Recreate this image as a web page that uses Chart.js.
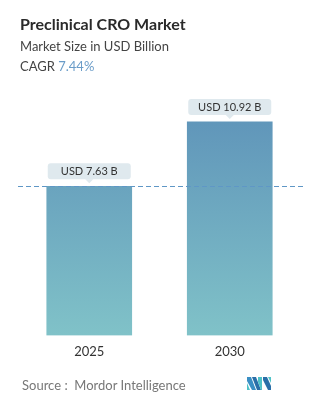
<!DOCTYPE html>
<html>
<head>
<meta charset="utf-8">
<script src="https://cdn.jsdelivr.net/npm/chart.js@4/dist/chart.umd.min.js"></script>
<style>
  html,body{margin:0;padding:0;background:#fff;}
  body{width:327px;height:402px;position:relative;overflow:hidden;font-family:Lato,"Open Sans",sans-serif;}
  #wrap{position:absolute;left:0;top:0;width:327px;height:402px;}
  .t{position:absolute;left:20px;white-space:nowrap;}
  #title{top:14px;font-size:16px;font-weight:700;color:#2a2a2a;}
  #sub{top:38px;font-size:13px;color:#444;}
  #cagr{top:58px;font-size:13px;color:#444;}
  #cagr span{color:#6a9cc8;}
  #src{top:377px;left:22px;font-size:13px;color:#777;}
  #logo{position:absolute;left:247px;top:377px;}
</style>
</head>
<body>
<div id="wrap"><canvas id="c" width="327" height="402"></canvas></div>
<div class="t" id="title">Preclinical CRO Market</div>
<div class="t" id="sub">Market Size in USD Billion</div>
<div class="t" id="cagr">CAGR <span>7.44%</span></div>
<div class="t" id="src">Source :&nbsp; Mordor Intelligence</div>
<svg id="logo" width="24" height="13" viewBox="0 0 24 13">
  <polygon points="0,0 4,0 9,13 5,13 0,4" fill="#3a8fc4"/>
  <polygon points="0,6 0,13 3,13" fill="#4fc3c8"/>
  <polygon points="5,0 9,0 14,13 10,13" fill="#2a6fa8"/>
  <polygon points="11,0 15,0 15,13 14,13 11,5" fill="#4fc3c8"/>
  <polygon points="16,0 20,0 24,9 24,13 21,13 16,3" fill="#2a6fa8"/>
  <polygon points="21,0 24,0 24,6" fill="#4fc3c8"/>
</svg>
<script>
const categories = ["2025", "2030"];
const values = [7.63, 10.92];
const valueLabels = ["USD 7.63 B", "USD 10.92 B"];
const referenceValue = 7.63;

const calloutPlugin = {
  id: 'callouts',
  afterDatasetsDraw(chart) {
    const ctx = chart.ctx;
    const meta = chart.getDatasetMeta(0);
    const ys = chart.scales.y;
    const yRef = Math.round(ys.getPixelForValue(referenceValue)) + 0.5;
    ctx.save();
    ctx.strokeStyle = '#5f97c6';
    ctx.lineWidth = 1;
    ctx.setLineDash([5, 3]);
    ctx.beginPath();
    ctx.moveTo(18, yRef);
    ctx.lineTo(304, yRef);
    ctx.stroke();
    ctx.restore();
    meta.data.forEach((bar, i) => {
      const w = bar.width - 2;
      const h = 16;
      const x0 = bar.x - w / 2;
      const yb = bar.y - 7;
      const y0 = yb - h;
      ctx.save();
      ctx.fillStyle = '#dfe9ee';
      ctx.beginPath();
      if (ctx.roundRect) ctx.roundRect(x0, y0, w, h, 3); else ctx.rect(x0, y0, w, h);
      ctx.fill();
      ctx.beginPath();
      ctx.moveTo(bar.x - 4, yb);
      ctx.lineTo(bar.x + 4, yb);
      ctx.lineTo(bar.x, yb + 4);
      ctx.closePath();
      ctx.fill();
      ctx.fillStyle = '#333';
      ctx.font = '11px Lato, "Open Sans", sans-serif';
      ctx.textAlign = 'center';
      ctx.textBaseline = 'middle';
      ctx.fillText(valueLabels[i], bar.x, y0 + h / 2 + 0.5);
      ctx.restore();
    });
  }
};

new Chart(document.getElementById('c'), {
  type: 'bar',
  data: {
    labels: categories,
    datasets: [{
      data: values,
      barThickness: 85,
      borderWidth: 0,
      backgroundColor: (c) => {
        const chart = c.chart;
        const { chartArea } = chart;
        if (!chartArea) return '#6a9fbf';
        const el = c.element;
        const top = el && el.y !== undefined ? el.y : chartArea.top;
        const base = chart.scales.y.getPixelForValue(0);
        const g = chart.ctx.createLinearGradient(0, top, 0, base);
        g.addColorStop(0, '#5c90b8');
        g.addColorStop(1, '#80c2c8');
        return g;
      }
    }]
  },
  options: {
    responsive: false,
    animation: false,
    layout: { padding: { left: 19, right: 27, top: 91, bottom: 33 } },
    plugins: { legend: { display: false }, tooltip: { enabled: false }, title: { display: false } },
    scales: {
      x: {
        grid: { display: false, drawTicks: false },
        border: { display: false },
        ticks: { color: '#333', font: { size: 13, family: 'Lato, "Open Sans", sans-serif' }, padding: 9 }
      },
      y: {
        display: false,
        min: 0,
        max: 12.5
      }
    }
  },
  plugins: [calloutPlugin]
});
</script>
</body>
</html>
